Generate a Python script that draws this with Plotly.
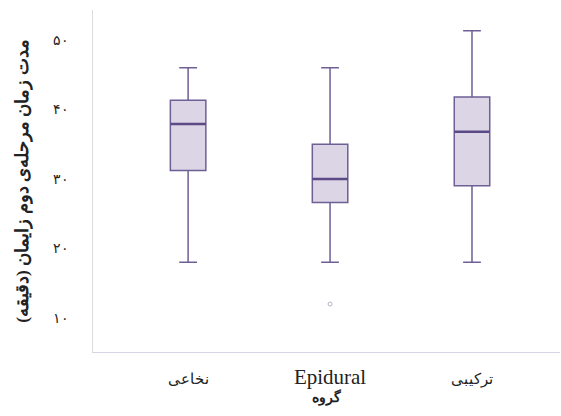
import plotly.graph_objects as go

categories = ["نخاعی", "Epidural", "ترکیبی"]
lower_fence = [18, 18, 18]
q1 = [31.2, 26.6, 29.0]
median = [37.9, 30.0, 36.8]
q3 = [41.3, 35.0, 41.8]
upper_fence = [46, 46, 51.3]
outlier_group = [1]
outlier_value = [12]
y_tick_vals = [10, 20, 30, 40, 50]
y_tick_text = ["۱۰", "۲۰", "۳۰", "۴۰", "۵۰"]

pos = list(range(len(categories)))
line_col = "#6e5f95"
fill_col = "rgba(195,185,212,0.6)"
box_w = 0.25
half_w = box_w / 2


def is_latin(s):
    return all(ord(c) < 128 for c in s)


# Arabic-script labels render wider in the fallback font; shrink them
tick_labels = [c if is_latin(c) else '<span style="font-size:14.5px">%s</span>' % c
               for c in categories]

fig = go.Figure()
fig.add_trace(go.Box(
    x=pos, q1=q1, median=median, q3=q3,
    lowerfence=lower_fence, upperfence=upper_fence,
    fillcolor=fill_col, line=dict(color=line_col, width=1.5),
    width=box_w, whiskerwidth=0.5, boxpoints=False, showlegend=False,
    hoverinfo="skip",
))
mx, my = [], []
for p, m in zip(pos, median):
    mx += [p - half_w, p + half_w, None]
    my += [m, m, None]
fig.add_trace(go.Scatter(x=mx, y=my, mode="lines",
                         line=dict(color="#5b4a85", width=2.5),
                         showlegend=False, hoverinfo="skip"))
fig.add_trace(go.Scatter(x=outlier_group, y=outlier_value, mode="markers",
                         marker=dict(symbol="circle-open", size=4, color="#b8b2c6"),
                         showlegend=False, hoverinfo="skip"))

fig.update_layout(
    width=561, height=416,
    margin=dict(l=93, r=1, t=10, b=64, autoexpand=False),
    paper_bgcolor="white", plot_bgcolor="white",
    font=dict(family="Liberation Serif", size=16, color="#222"),
    xaxis=dict(
        range=[-0.67, 2.62], tickvals=pos, ticktext=tick_labels,
        showgrid=False, zeroline=False, showline=True, linecolor="#d9d4e3",
        linewidth=1, ticks="", tickfont=dict(size=21), automargin=False,
        ticklabelstandoff=6,
        title=dict(text="<b>گروه</b>", font=dict(size=14), standoff=2),
    ),
    yaxis=dict(
        range=[5.1, 54.3], tickvals=y_tick_vals, ticktext=y_tick_text,
        showgrid=False, zeroline=False, showline=True, linecolor="#dcdcdc",
        linewidth=1, ticks="", ticklabelstandoff=20, tickfont=dict(size=14),
        automargin=False,
        title=dict(text="<b>مدت زمان مرحله‌ی دوم زایمان (دقیقه)</b>", font=dict(size=17.5), standoff=20),
    ),
)

fig.write_html("out.html", post_script="document.body.style.margin='0';",
               config={"displayModeBar": False})
